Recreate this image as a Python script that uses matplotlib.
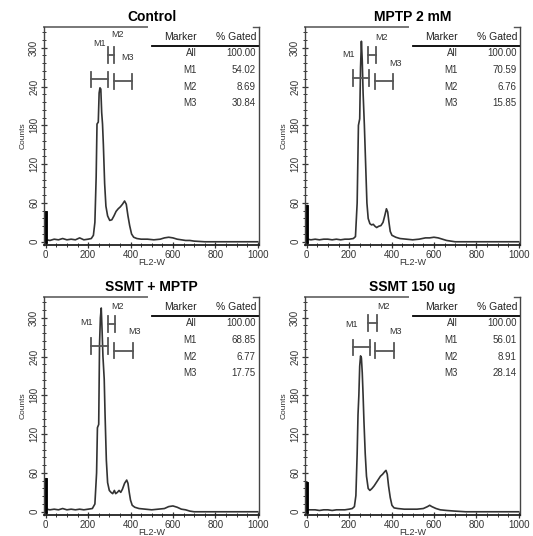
import matplotlib
matplotlib.use("Agg")
import matplotlib.pyplot as plt
from matplotlib.ticker import MultipleLocator

plt.rcParams['font.family'] = ['Liberation Sans', 'DejaVu Sans']

titles = ["Control", "MPTP 2 mM", "SSMT + MPTP", "SSMT 150 ug"]
markers = ["All", "M1", "M2", "M3"]

# % gated values per panel
ctrl_gated = ["100.00", "54.02", "8.69", "30.84"]
mptp_gated = ["100.00", "70.59", "6.76", "15.85"]
ssmt_mptp_gated = ["100.00", "68.85", "6.77", "17.75"]
ssmt_gated = ["100.00", "56.01", "8.91", "28.14"]

# histogram traces (FL2-W, counts)
ctrl_x = [0, 0, 4, 4, 20, 40, 60, 80, 100, 120, 140, 160, 180, 200, 215, 225, 232, 238, 242, 248,
          252, 256, 260, 264, 268, 272, 278, 284, 292, 302, 312, 322, 332, 342, 352, 362, 372,
          380, 388, 396, 405, 415, 430, 450, 480, 510, 540, 560, 580, 600, 620, 640, 660, 680,
          700, 750, 800, 900, 1000]
ctrl_y = [0, 46, 46, 3, 2, 4, 3, 5, 3, 4, 3, 6, 3, 4, 5, 10, 30, 100, 182, 185,
          230, 238, 236, 200, 182, 150, 90, 55, 40, 33, 34, 40, 47, 51, 54, 58, 63,
          58, 40, 25, 12, 7, 5, 4, 4, 3, 4, 6, 7, 6, 4, 3, 2, 2,
          1, 0, 0, 0, 0]

mptp_x = [0, 0, 4, 4, 20, 40, 60, 80, 100, 120, 140, 160, 180, 200, 220, 230, 238, 244, 250,
          254, 258, 262, 266, 272, 278, 284, 290, 298, 306, 314, 322, 330, 340, 350, 360, 368,
          376, 382, 388, 394, 402, 420, 440, 470, 500, 530, 560, 580, 600, 620, 640, 660, 680,
          700, 1000]
mptp_y = [0, 56, 56, 4, 3, 4, 3, 4, 4, 3, 4, 3, 4, 4, 5, 8, 60, 180, 190,
          270, 310, 280, 230, 180, 120, 60, 36, 28, 26, 27, 24, 22, 24, 25, 30, 40,
          51, 46, 30, 16, 10, 7, 5, 4, 3, 4, 6, 6, 7, 6, 4, 2, 1,
          0, 0]

ssmt_mptp_x = [0, 0, 4, 4, 20, 40, 60, 80, 100, 120, 140, 160, 180, 200, 220, 232, 240, 244,
               250, 254, 258, 262, 266, 270, 276, 280, 286, 292, 300, 308, 316, 324, 330, 338,
               346, 354, 362, 372, 382, 388, 394, 400, 408, 420, 440, 470, 500, 530, 560, 580,
               600, 620, 640, 660, 680, 700, 1000]
ssmt_mptp_y = [0, 51, 51, 4, 3, 4, 3, 5, 3, 4, 3, 4, 3, 4, 5, 12, 60, 130,
               135, 260, 300, 315, 280, 240, 205, 150, 80, 45, 33, 30, 28, 33, 28, 30,
               33, 30, 35, 44, 49, 44, 30, 18, 10, 7, 5, 4, 3, 4, 5, 8,
               9, 7, 4, 3, 1, 0, 0]

ssmt_x = [0, 0, 4, 4, 20, 40, 60, 80, 100, 120, 140, 160, 180, 200, 215, 225, 232, 238, 242,
          246, 250, 254, 258, 262, 266, 270, 276, 282, 290, 298, 308, 318, 328, 338, 348, 358,
          368, 374, 380, 386, 394, 402, 412, 430, 460, 490, 520, 550, 570, 580, 590, 610, 630,
          660, 700, 750, 1000]
ssmt_y = [0, 45, 45, 3, 3, 3, 2, 3, 3, 2, 3, 3, 3, 4, 5, 8, 25, 90, 150,
          180, 225, 241, 238, 215, 180, 140, 90, 55, 36, 33, 36, 40, 45, 50, 55, 58,
          62, 64, 58, 40, 22, 10, 6, 5, 4, 4, 4, 5, 8, 10, 8, 5, 3,
          2, 1, 0, 0]

# marker gates: (start, end, counts level) for M1, M2, M3
ctrl_gates = [(215, 295, 251), (292, 322, 289), (322, 405, 248)]
mptp_gates = [(219, 293, 253), (289, 326, 289), (322, 409, 248)]
ssmt_mptp_gates = [(216, 295, 256), (292, 326, 290), (322, 410, 249)]
ssmt_gates = [(217, 299, 254), (291, 331, 292), (323, 413, 249)]

# gate label positions (x, counts) for M1, M2, M3
ctrl_lab = [(253, 306), (338, 320), (385, 285)]
mptp_lab = [(195, 289), (355, 315), (417, 276)]
ssmt_mptp_lab = [(193, 292), (340, 318), (418, 279)]
ssmt_lab = [(213, 289), (360, 318), (417, 278)]

panels = [
    (ctrl_x, ctrl_y, ctrl_gated, ctrl_gates, ctrl_lab),
    (mptp_x, mptp_y, mptp_gated, mptp_gates, mptp_lab),
    (ssmt_mptp_x, ssmt_mptp_y, ssmt_mptp_gated, ssmt_mptp_gates, ssmt_mptp_lab),
    (ssmt_x, ssmt_y, ssmt_gated, ssmt_gates, ssmt_lab),
]

W, H = 533, 536
fig = plt.figure(figsize=(W / 100, H / 100), dpi=100)
fig.patch.set_facecolor("white")

boxes = [(44, 27), (305, 27), (44, 297), (305, 297)]
aw, ah = 215, 218

for i, (xs, ys, gated, gates, labs) in enumerate(panels):
    l, t = boxes[i]
    ax = fig.add_axes([l / W, (H - t - ah) / H, aw / W, ah / H])
    ax.plot(xs, ys, color="#333333", lw=1.2)
    # spike at the left edge
    ax.plot([xs[0], xs[1]], [ys[0], ys[1]], color="black", lw=2.0)
    ax.set_xlim(-8, 1006)
    ax.set_ylim(-5, 332)

    ax.xaxis.set_major_locator(MultipleLocator(200))
    ax.xaxis.set_minor_locator(MultipleLocator(50))
    ax.yaxis.set_major_locator(MultipleLocator(60))
    ax.yaxis.set_minor_locator(MultipleLocator(12))
    ax.tick_params(axis="both", which="major", direction="inout", length=5, width=0.9,
                   labelsize=7, pad=1, colors="#333333")
    ax.tick_params(axis="both", which="minor", direction="inout", length=3, width=0.7,
                   colors="#333333")
    for lab in ax.get_yticklabels():
        lab.set_rotation(90)
        lab.set_va("center")
    ax.set_xlabel("FL2-W", fontsize=6.5, labelpad=-1, color="#333333")
    ax.set_ylabel("Counts", fontsize=6, labelpad=2, color="#333333")
    ax.set_title(titles[i], fontsize=10, fontweight="bold", pad=4)

    for s in ["left", "bottom", "right"]:
        ax.spines[s].set_color("#444444")
        ax.spines[s].set_linewidth(1.0)
    ax.spines["bottom"].set_color("#222222")
    ax.spines["bottom"].set_linewidth(1.3)
    ax.spines["top"].set_visible(False)
    ax.plot([0, 0.48], [1, 1], transform=ax.transAxes, color="#777777", lw=1.4, clip_on=False)
    ax.plot([0.97, 1.0], [1, 1], transform=ax.transAxes, color="#555555", lw=1.0, clip_on=False)

    # gates
    for (g1, g2, gy), name, (lx, ly) in zip(gates, markers[1:], labs):
        ax.plot([g1, g2], [gy, gy], color="#555555", lw=1.3)
        ax.plot([g1, g1], [gy - 12, gy + 12], color="#555555", lw=1.3)
        ax.plot([g2, g2], [gy - 12, gy + 12], color="#555555", lw=1.3)
        ax.text(lx, ly, name, fontsize=6.5, color="#333333", ha="center", va="center")

    # marker table
    ax.text(0.712, 0.952, "Marker", transform=ax.transAxes, fontsize=7.5, ha="right",
            va="center", color="#222222")
    ax.text(0.99, 0.952, "% Gated", transform=ax.transAxes, fontsize=7.5, ha="right",
            va="center", color="#222222")
    ax.plot([0.50, 1.0], [0.913, 0.913], transform=ax.transAxes, color="black", lw=1.3,
            clip_on=False)
    row_y = [0.881, 0.804, 0.726, 0.653]
    for name, val, ry in zip(markers, gated, row_y):
        ax.text(0.712, ry, name, transform=ax.transAxes, fontsize=7, ha="right",
                va="center", color="#333333")
        ax.text(0.985, ry, val, transform=ax.transAxes, fontsize=7, ha="right",
                va="center", color="#333333")

fig.savefig("out.png", dpi=100)
